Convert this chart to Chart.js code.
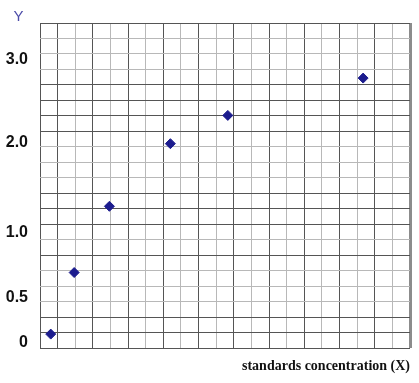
<!DOCTYPE html>
<html>
<head>
<meta charset="utf-8">
<script src="https://cdn.jsdelivr.net/npm/chart.js@4/dist/chart.umd.min.js"></script>
<style>
  html, body { margin: 0; padding: 0; background: #ffffff; }
  #c { display: block; }
</style>
</head>
<body>
<canvas id="c" width="419" height="383"></canvas>
<script>
// ---- data ----
const xValues = [0.61, 1.94, 3.94, 7.40, 10.66, 18.34];   // standards concentration (grid units)
const yValues = [0.09, 0.69, 1.29, 1.99, 2.33, 2.78];     // Y
const yTickValues = [0, 0.5, 1, 2, 3];
const yTickLabels = ['0', '0.5', '1.0', '2.0', '3.0'];
const xTitle = 'standards concentration (X)';
const yTitle = 'Y';

// ---- the reference's printed Y axis is not evenly spaced: piecewise scale ----
const GRID_N = 21;
const WARP_AT = [0.375, 3.28, 7.48, 13.26, 18.62]; // grid row of each tick value
function warp(v) {
  const t = yTickValues, g = WARP_AT;
  let i = 0;
  if (v <= t[0]) i = 0;
  else if (v >= t[t.length - 1]) i = t.length - 2;
  else { while (v > t[i + 1]) i++; }
  return g[i] + (v - t[i]) * (g[i + 1] - g[i]) / (t[i + 1] - t[i]);
}
function unwarp(p) {
  const t = yTickValues, g = WARP_AT;
  let i = 0;
  if (p <= g[0]) i = 0;
  else if (p >= g[g.length - 1]) i = g.length - 2;
  else { while (p > g[i + 1]) i++; }
  return t[i] + (p - g[i]) * (t[i + 1] - t[i]) / (g[i + 1] - g[i]);
}
class WarpScale extends Chart.LinearScale {
  getPixelForValue(value) {
    if (value === null || value === undefined) return NaN;
    return this.getPixelForDecimal(warp(value) / GRID_N);
  }
  getValueForPixel(pixel) {
    return unwarp(this.getDecimalForPixel(pixel) * GRID_N);
  }
}
WarpScale.id = 'warp';
WarpScale.defaults = Chart.LinearScale.defaults;
Chart.register(WarpScale);

const DARK = '#555555', LIGHT = '#b8b8b8';
const darkRows = [0, 1, 2, 6, 8, 9, 10, 14, 15, 16, 17, 21];

const yLabelPlugin = {
  id: 'yLabel',
  afterDraw(chart) {
    const ctx = chart.ctx;
    ctx.save();
    ctx.font = '15px "Liberation Sans", Arial, sans-serif';
    ctx.fillStyle = '#4b4ba8';
    ctx.textAlign = 'center';
    ctx.textBaseline = 'middle';
    ctx.fillText(yTitle, 18.5, 17);
    ctx.restore();
  }
};

new Chart(document.getElementById('c'), {
  type: 'scatter',
  data: {
    datasets: [{
      data: xValues.map((x, i) => ({ x: x, y: yValues[i] })),
      xAxisID: 'x',
      yAxisID: 'y',
      pointStyle: 'rectRot',
      pointRadius: 5,
      pointBackgroundColor: '#1c1c8e',
      pointBorderColor: '#1c1c8e',
      pointBorderWidth: 1,
      showLine: false
    }]
  },
  options: {
    responsive: false,
    devicePixelRatio: 1,
    animation: false,
    layout: { padding: { left: 0, right: 9, top: 23, bottom: 0 } },
    plugins: { legend: { display: false }, tooltip: { enabled: false } },
    scales: {
      x: {
        type: 'linear',
        position: 'bottom',
        min: 0, max: GRID_N,
        ticks: { stepSize: 1, display: false },
        grid: {
          drawTicks: false,
          color: c => (c.tick && c.tick.value === GRID_N) ? '#8c8c8c' :
                      ((c.tick && c.tick.value % 2 === 1) || (c.tick && c.tick.value === 0) ? DARK : LIGHT),
          lineWidth: c => (c.tick && c.tick.value === GRID_N) ? 3 : 1
        },
        border: { display: false },
        title: {
          display: true,
          text: xTitle,
          align: 'end',
          color: '#111111',
          font: { family: '"Liberation Serif", "Times New Roman", serif', size: 14, weight: 'bold' },
          padding: { top: 0, bottom: 8 }
        },
        afterFit: s => { s.height = 35; }
      },
      yg: {
        type: 'linear',
        position: 'left',
        min: 0, max: GRID_N,
        ticks: { stepSize: 1, display: false },
        grid: {
          drawTicks: false,
          color: c => (c.tick && darkRows.includes(c.tick.value)) ? DARK : LIGHT,
          lineWidth: 1
        },
        border: { display: false },
        afterFit: s => { s.width = 0; }
      },
      y: {
        type: 'warp',
        position: 'left',
        min: unwarp(0), max: unwarp(GRID_N),
        grid: { display: false, drawTicks: false },
        border: { display: false },
        afterBuildTicks: s => { s.ticks = yTickValues.map(v => ({ value: v })); },
        ticks: {
          padding: 12,
          color: '#111111',
          font: { family: '"Liberation Sans", Arial, sans-serif', size: 16, weight: 'bold' },
          callback: (v, i) => yTickLabels[i]
        },
        afterFit: s => { s.width = 40; }
      }
    }
  },
  plugins: [yLabelPlugin]
});
</script>
</body>
</html>
